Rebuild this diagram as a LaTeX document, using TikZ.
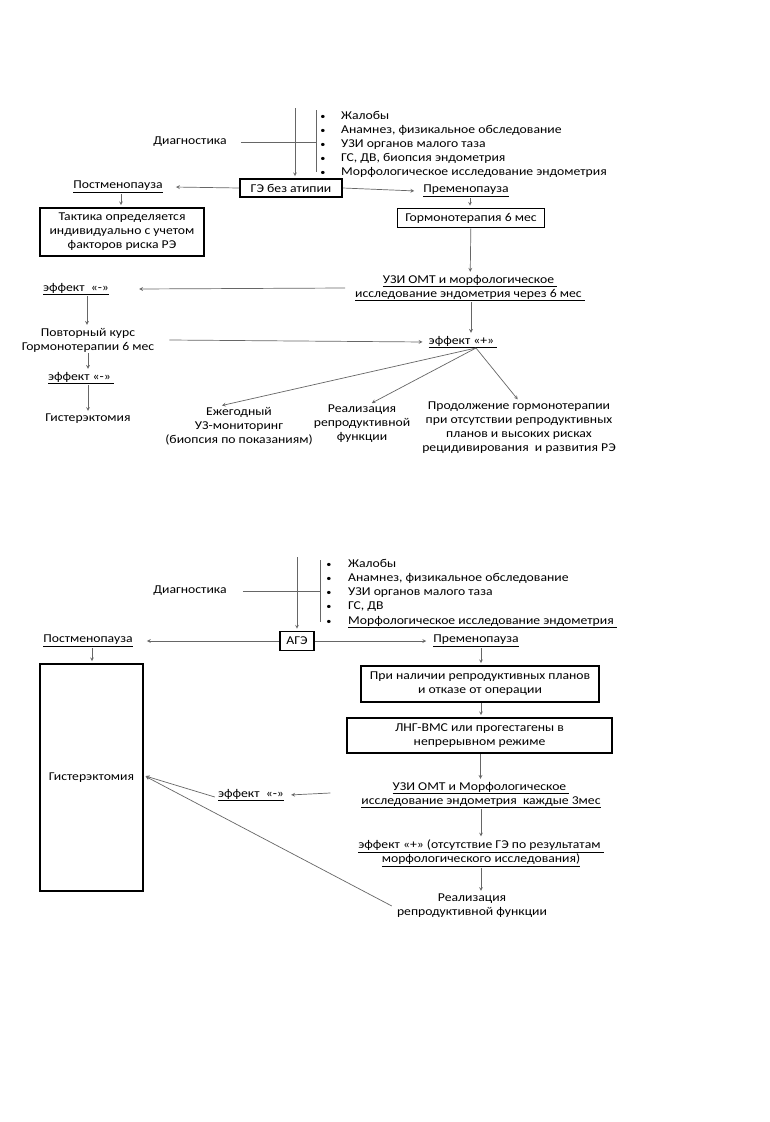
\documentclass[tikz,border=0pt]{standalone}
\usepackage{fontspec}
\setmainfont{Carlito}[FakeStretch=1.14]
\usepackage{tikz}
\usetikzlibrary{calc}

\begin{document}
\begin{tikzpicture}[x=1pt,y=-1pt,font=\fontsize{12}{14}\selectfont,-]
    \tikzstyle{box}=[draw=black,line width=1.6pt,inner sep=2pt,align=center]
    \tikzstyle{lbl}=[inner sep=1pt,align=center]
    \tikzstyle{dot}=[inner sep=0pt,anchor=base,font=\fontsize{9}{9}\selectfont]
    \tikzstyle{arr}=[->,draw=black!60,line width=0.7pt,>=stealth,shorten >=2pt]
    \tikzstyle{ln}=[draw=black!60,line width=0.7pt]
    \useasboundingbox[fill=white] (0,0) rectangle (770,1122);

    % first scheme
    \node[lbl] (diag1) at (190,142) {Диагностика};
    \coordinate (br1t) at (316,110);
    \coordinate (br1b) at (316,172);
    \draw[ln] (br1t) -- (br1b);
    \draw[ln] ([xshift=13pt]diag1.east) -- (diag1.east -| br1t);
    \foreach \i/\t in {1/{Жалобы}, 2/{Анамнез, физикальное обследование}, 3/{УЗИ органов малого таза},
                       4/{ГС, ДВ, биопсия эндометрия}, 5/{Морфологическое исследование эндометрия}}
        {
        \node[dot] (dot1-\i) at (323,105+14*\i) {•};
        \node[lbl,anchor=base west] (it1-\i) at (340,105+14*\i) {\t};
        }

    \node[box,minimum width=102pt,minimum height=18pt] (ge) at (291,188) {ГЭ без атипии};
    \coordinate (top1) at (295,108);
    \draw[arr] (top1) -- (top1 |- ge.north);

    \node[lbl] (post1) at (118,187) {\underline{Постменопауза}};
    \node[lbl] (pre1) at (466,191) {\underline{Пременопауза}};
    \draw[arr] (ge.west) -- ([xshift=10pt]post1.east);
    \draw[arr] (ge.east) -- ([xshift=-6pt]pre1.west);

    \node[box,minimum width=164pt,minimum height=48pt] (takt) at (122,232)
        {Тактика определяется\\индивидуально с учетом\\факторов риска РЭ};
    \node[box,minimum width=147pt,minimum height=19pt] (gorm) at (471,218) {Гормонотерапия 6 мес};
    \draw[arr] ([xshift=3pt]post1.south) -- ([xshift=3pt]post1.south |- takt.north);
    \draw[arr] ([xshift=4pt]pre1.south) -- ([xshift=4pt]pre1.south |- gorm.north);

    \node[lbl] (uzi1) at (470,288) {\underline{УЗИ ОМТ и морфологическое }\\\underline{исследование эндометрия через 6 мес }};
    \draw[arr] (gorm) -- (uzi1);
    \node[lbl] (neg1) at (76,289) {\underline{эффект\ \ «-»}};
    \draw[arr] ([xshift=-9pt]uzi1.west) -- ([xshift=27pt]neg1.east);

    \node[lbl] (rep1) at (88,340) {Повторный курс\\Гормонотерапии 6 мес};
    \node[lbl] (pos1) at (463,342) {\underline{эффект «+» }};
    \draw[arr] ([xshift=11pt]neg1.south) -- ([xshift=11pt]neg1.south |- rep1.north);
    \draw[arr] ([xshift=14pt]rep1.east) -- ([xshift=-3pt]pos1.west);
    \draw[arr] ([xshift=1pt]uzi1.south) -- ([xshift=1pt]uzi1.south |- pos1.north);

    \node[lbl] (neg2) at (81,378) {\underline{эффект «-» }};
    \node[lbl] (hyst1) at (88,419) {Гистерэктомия};
    \draw[arr] ([xshift=7pt]neg2.north |- rep1.south) -- ([xshift=7pt]neg2.north);
    \draw[arr] ([xshift=7pt]neg2.south) -- ([xshift=7pt]neg2.south |- hyst1.north);

    \node[lbl] (ann) at (239,426) {Ежегодный\\УЗ-мониторинг\\(биопсия по показаниям)};
    \node[lbl] (real1) at (362,424) {Реализация\\репродуктивной\\функции};
    \node[lbl] (cont) at (519,428) {Продолжение гормонотерапии\\при отсутствии репродуктивных\\планов и высоких рисках\\рецидивирования\ \ и развития РЭ};
    \coordinate (fan) at (476,348);
    \draw[arr] (fan) -- ([xshift=-19pt]ann.north);
    \draw[arr] (fan) -- ([xshift=8pt]real1.north);
    \draw[arr] (fan) -- (cont.north);

    % second scheme
    \node[lbl] (diag2) at (190,591) {Диагностика};
    \coordinate (br2t) at (320,560);
    \coordinate (br2b) at (320,622);
    \draw[ln] (br2t) -- (br2b);
    \draw[ln] ([xshift=15pt]diag2.east) -- (diag2.east -| br2t);
    \foreach \i/\t in {1/{Жалобы}, 2/{Анамнез, физикальное обследование}, 3/{УЗИ органов малого таза},
                       4/{ГС, ДВ}, 5/{\underline{Морфологическое исследование эндометрия }}}
        {
        \node[dot] (dot2-\i) at (329,553+14.2*\i) {•};
        \node[lbl,anchor=base west] (it2-\i) at (347,553+14.2*\i) {\t};
        }

    \node[box,minimum width=34pt,minimum height=19pt] (age) at (297,641) {АГЭ};
    \coordinate (top2) at (297,557);
    \draw[arr] (top2) -- (top2 |- age.north);

    \node[lbl] (post2) at (88,641) {\underline{Постменопауза}};
    \node[lbl] (pre2) at (476,641) {\underline{Пременопауза}};
    \draw[arr] (age.west) -- ([xshift=11pt]post2.east);
    \draw[arr] (age.east) -- ([xshift=-4pt]pre2.west);

    \node[box,minimum width=103pt,minimum height=227pt] (hyst2) at (91.5,777.5) {Гистерэктомия};
    \node[box,minimum width=238pt,minimum height=36pt] (plan) at (480,684)
        {При наличии репродуктивных планов\\и отказе от операции};
    \node[box,minimum width=265pt,minimum height=35pt] (lng) at (479.5,735.5)
        {ЛНГ-ВМС или прогестагены в\\непрерывном режиме};
    \draw[arr] ([xshift=4pt]post2.south) -- ([xshift=4pt]post2.south |- hyst2.north);
    \draw[arr] ([xshift=5pt]pre2.south) -- ([xshift=5pt]pre2.south |- plan.north);
    \draw[arr] ([xshift=1pt]plan.south) -- ([xshift=1pt]plan.south |- lng.north);

    \node[lbl] (uzi2) at (481,795) {\underline{УЗИ ОМТ и Морфологическое }\\\underline{исследование эндометрия\ \ каждые 3мес}};
    \node[lbl] (neg3) at (251,795) {\underline{эффект\ \ «-»}};
    \node[lbl] (pos2) at (481,853) {\underline{эффект «+» (отсутствие ГЭ по результатам }\\\underline{морфологического исследования)}};
    \node[lbl] (real2) at (472,906) {Реализация\\репродуктивной функции};
    \draw[arr] ([xshift=1pt]lng.south) -- ([xshift=1pt]lng.south |- uzi2.north);
    \draw[arr] ([xshift=-30pt,yshift=2pt]uzi2.west) -- ([xshift=4pt]neg3.east);
    \draw[arr] ([xshift=-2pt,yshift=-2pt]neg3.west) -- ([yshift=2pt]hyst2.east);
    \draw[arr] (uzi2) -- (pos2);
    \draw[arr] (pos2.south) -- (pos2.south |- real2.north);
    \draw[arr] ([xshift=-4pt]real2.west) -- ([yshift=2pt]hyst2.east);
\end{tikzpicture}
\end{document}
